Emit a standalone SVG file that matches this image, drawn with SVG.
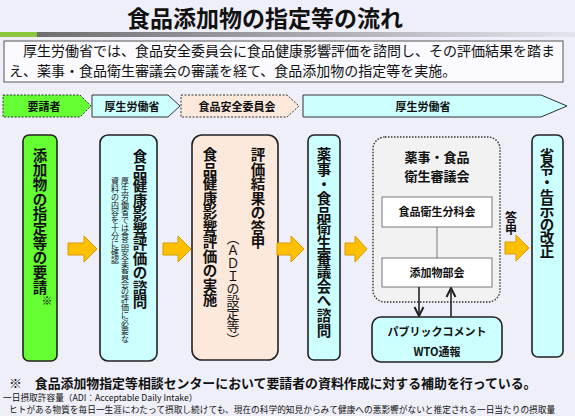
<svg xmlns="http://www.w3.org/2000/svg" width="575" height="416" viewBox="0 0 575 416">
<style>
text{font-family:"Noto Sans CJK JP","Noto Sans",sans-serif;fill:#111}
.b{font-weight:bold}
.c{text-anchor:middle}
.box{stroke:#222;stroke-width:1.6}
.arr{fill:#ffc000;stroke:#d89a00;stroke-width:1}
.ph{stroke:#333;stroke-width:1}
.dash{stroke-dasharray:2 1.5}
.con{stroke:#222;stroke-width:1.6;fill:none}
</style>
<defs>
<linearGradient id="bar" x1="0" x2="1" y1="0" y2="0">
<stop offset="0" stop-color="#6e6e6e"/>
<stop offset="1" stop-color="#e4e4ec"/>
</linearGradient>
<marker id="ah" viewBox="0 0 10 10" refX="9" refY="5" markerWidth="7" markerHeight="7" orient="auto-start-reverse">
<path d="M1,1 L9,5 L1,9" fill="none" stroke="#222" stroke-width="1.8"/>
</marker>
</defs>
<rect width="575" height="416" fill="#efeff9"/>
<g id="title">
<text x="265" y="27" class="b c" font-size="23">食品添加物の指定等の流れ</text>
<rect x="37" y="32" width="538" height="5" fill="url(#bar)"/>
<rect x="0" y="32" width="37" height="5" fill="#8cc63f"/>
</g>
<g id="intro">
<rect x="4" y="41" width="559" height="41" fill="#fafaff" stroke="#555" stroke-width="1"/>
<text x="9" y="56" font-size="14">　厚生労働省では、食品安全委員会に食品健康影響評価を諮問し、その評価結果を踏ま</text>
<text x="9" y="76" font-size="14">え、薬事・食品衛生審議会の審議を経て、食品添加物の指定等を実施。</text>
</g>
<g id="phase1">
<polygon class="ph dash" points="3,95 80,95 91,106 80,117 3,117" fill="#66ff33"/>
<text x="44" y="110.5" class="b c" font-size="11">要請者</text>
</g>
<g id="phase2">
<polygon class="ph" points="92,95 168,95 180,106 168,117 92,117" fill="#ccffff"/>
<text x="132" y="110.5" class="b c" font-size="11">厚生労働省</text>
</g>
<g id="phase3">
<polygon class="ph dash" points="181,95 287,95 299,106 287,117 181,117" fill="#fde9dc"/>
<text x="237" y="110.5" class="b c" font-size="11">食品安全委員会</text>
</g>
<g id="phase4">
<polygon class="ph" points="303,95 541,95 567,106 541,117 303,117" fill="#ccffff"/>
<text x="423" y="110.5" class="b c" font-size="11">厚生労働省</text>
</g>
<g id="request">
<rect class="box" x="23" y="135" width="34" height="226" rx="6" fill="#66ff33"/>
<text class="b c" font-size="14.5" x="40 40 40 40 40 40 40 40 40 40" y="160.5 175.2 189.9 204.6 219.3 234 248.7 263.4 278.1 292.8">添加物の指定等の要請</text>
<text x="47" y="305" class="c" font-size="11">※</text>
</g>
<g id="consult">
<rect class="box" x="100" y="135" width="57" height="226" rx="8" fill="#ccffff"/>
<text class="b c" font-size="14.5" x="140 140 140 140 140 140 140 140 140 140 140" y="162 176.5 191 205.5 220 234.5 249 263.5 278 292.5 307">食品健康影響評価の諮問</text>
<text class="c" font-size="8" x="125 125 125 125 125 125 125 125 125 125 125 125 125 125 125 125 125 125 125 125 125" y="183.8 191.7 199.6 207.5 215.4 223.3 231.2 239.1 247 254.9 262.8 270.7 278.6 286.5 294.4 302.3 310.2 318.1 326 333.9 341.8">厚生労働省では食品安全委員会の評価に必要な</text>
<text class="c" font-size="8" x="115 115 115 115 115 115 115 115 115 115 115" y="183.8 191.7 199.6 207.5 215.4 223.3 231.2 239.1 247 254.9 262.8">資料の内容を十分に確認</text>
</g>
<g id="assess">
<rect class="box" x="192" y="135" width="86" height="225" rx="10" fill="#fde9dc"/>
<text class="b c" font-size="14.5" x="258 258 258 258 258 258 258" y="160.3 174.8 189.3 203.8 218.3 232.8 247.3">評価結果の答申</text>
<text class="c" font-size="13" x="233 233 233 233 233 233 233 233 233" y="242.8 255.4 268 280.6 293.2 305.8 318.4 331 343.6">︵ＡＤＩの設定等︶</text>
<text class="b c" font-size="14.5" x="210 210 210 210 210 210 210 210 210 210 210" y="160.3 174.8 189.3 203.8 218.3 232.8 247.3 261.8 276.3 290.8 305.3">食品健康影響評価の実施</text>
</g>
<g id="refer">
<rect class="box" x="308" y="135" width="32" height="225" rx="6" fill="#ccffff"/>
<text class="b c" font-size="14.5" x="324 324 324 324 324 324 324 324 324 324 324 324 324" y="160.3 174.9 189.5 204.1 218.7 233.3 247.9 262.5 277.1 291.7 306.3 320.9 335.5">薬事・食品衛生審議会へ諮問</text>
</g>
<g id="council">
<rect x="373" y="137" width="127" height="165" rx="12" fill="#f2f2f2" stroke="#333" stroke-width="1.4" stroke-dasharray="1.5 1.5"/>
<text x="437" y="162" class="b c" font-size="13">薬事・食品</text>
<text x="437" y="181" class="b c" font-size="13">衛生審議会</text>
</g>
<g id="subcommittee">
<rect x="382" y="197" width="110" height="30" fill="#fff" stroke="#777" stroke-width="1"/>
<text x="437" y="216" class="b c" font-size="11">食品衛生分科会</text>
</g>
<g id="additives">
<rect x="382" y="258" width="110" height="29" fill="#fff" stroke="#777" stroke-width="1"/>
<text x="437" y="276.5" class="b c" font-size="11">添加物部会</text>
</g>
<g id="public">
<rect class="box" x="372" y="317" width="130" height="45" rx="9" fill="#ccffff"/>
<text x="437" y="336" class="b c" font-size="11">パブリックコメント</text>
<text x="437" y="356" class="b c" font-size="11">WTO通報</text>
</g>
<g id="ordinance">
<rect class="box" x="532" y="135" width="31" height="222" rx="6" fill="#ccffff"/>
<text class="b c" font-size="14.5" x="547 547 547 547 547 547 547 547" y="160.5 174.3 188.1 201.9 215.7 229.5 243.3 257.1">省令・告示の改正</text>
</g>
<g id="connectors">
<polygon class="arr" points="68,243 84,243 84,236 97,249 84,262 84,255 68,255"/>
<polygon class="arr" points="163,243 178,243 178,236 191,249 178,262 178,255 163,255"/>
<polygon class="arr" points="277,243 291,243 291,236 304,249 291,262 291,255 277,255"/>
<polygon class="arr" points="345,243 355,243 355,236 367,249 355,262 355,255 345,255"/>
<polygon class="arr" points="505,242 516,242 516,235 529,248 516,261 516,254 505,254"/>
<line x1="437" y1="227" x2="437" y2="258" stroke="#777" stroke-width="1"/>
<line class="con" x1="419" y1="287" x2="419" y2="316" marker-end="url(#ah)"/>
<line class="con" x1="451" y1="317" x2="451" y2="288" marker-end="url(#ah)"/>
<text class="b c" font-size="12" x="511 511" y="221.5 233.5">答申</text>
</g>
<g id="notes">
<text x="9" y="388" class="b" font-size="12.9">※　食品添加物指定等相談センターにおいて要請者の資料作成に対する補助を行っている。</text>
<text x="3" y="401" font-size="8.7">一日摂取許容量（ADI：Acceptable Daily Intake）</text>
<text x="9" y="413" font-size="8.7">ヒトがある物質を毎日一生涯にわたって摂取し続けても、現在の科学的知見からみて健康への悪影響がないと推定される一日当たりの摂取量</text>
</g>
</svg>
